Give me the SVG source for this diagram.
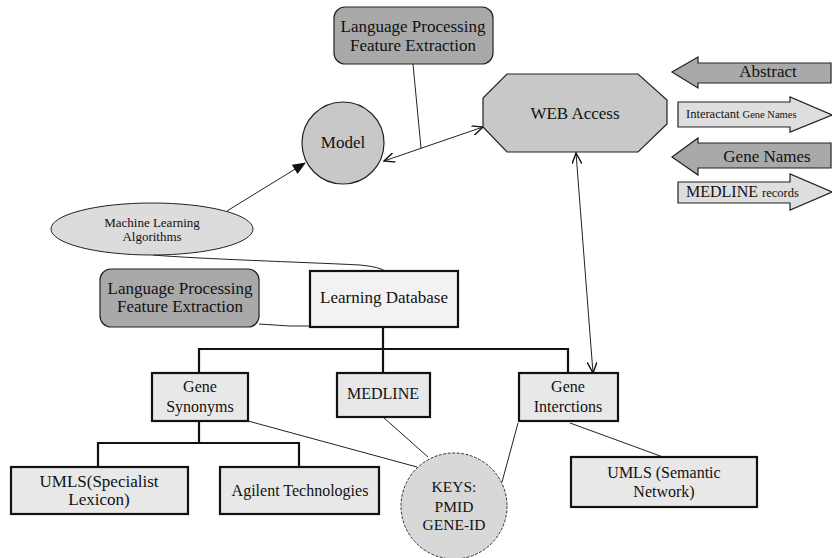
<svg xmlns="http://www.w3.org/2000/svg" width="832" height="558" viewBox="0 0 832 558">
<style>
text{font-family:"Liberation Serif","Times New Roman",serif;fill:#111;text-anchor:middle}
.t16{font-size:16px}.t17{font-size:17px}.t13{font-size:13px}.t15{font-size:15.5px}
.dark{fill:#a9a9a9;stroke:#222;stroke-width:1.2}
.mid{fill:#c8c8c8;stroke:#222;stroke-width:1.2}
.box{fill:#e8e8e8;stroke:#111;stroke-width:2.2}
.lt{fill:#dedede;stroke:#222;stroke-width:1.2}
.ln{fill:none;stroke:#222;stroke-width:1}
.tree{fill:none;stroke:#111;stroke-width:2.2}
</style>
<defs>
<marker id="open" viewBox="0 0 12 10" refX="11" refY="5" markerWidth="12" markerHeight="10" markerUnits="userSpaceOnUse" orient="auto-start-reverse">
<path d="M0,0 L11,5 L0,10" fill="none" stroke="#111" stroke-width="1.4"/>
</marker>
<marker id="fill" viewBox="0 0 12 10" refX="11" refY="5" markerWidth="14" markerHeight="11" markerUnits="userSpaceOnUse" orient="auto">
<path d="M0,0 L12,5 L0,10 Z" fill="#111"/>
</marker>
</defs>
<rect width="832" height="558" fill="#fff"/>
<g id="connectors">
<line class="ln" x1="413" y1="64" x2="421" y2="148"/>
<line class="ln" x1="384" y1="161" x2="483" y2="127" marker-start="url(#open)" marker-end="url(#open)"/>
<line class="ln" x1="227" y1="211" x2="305" y2="163" marker-end="url(#fill)"/>
<path class="ln" d="M153,255 C200,259 300,262 360,265 Q380,267 385,271"/>
<path class="ln" d="M259,324 Q290,327 320,326"/>
<line class="ln" x1="576" y1="153" x2="593" y2="373" marker-start="url(#open)" marker-end="url(#open)"/>
<path class="tree" d="M383,327 V349 M199,373 V349 H568 V373 M383,349 V373"/>
<path class="tree" d="M199,421 V443 M98,467 V443 H299 V467"/>
<line class="ln" x1="248" y1="421" x2="417" y2="467"/>
<line class="ln" x1="383" y1="417" x2="428" y2="457"/>
<line class="ln" x1="518" y1="423" x2="502" y2="482"/>
<line class="ln" x1="570" y1="423" x2="663" y2="457"/>
</g>
<g id="lp-top">
<rect class="dark" x="334" y="7" width="159" height="57" rx="11"/>
<text class="t17" x="413" y="32">Language Processing</text>
<text class="t17" x="413" y="51">Feature Extraction</text>
</g>
<g id="model">
<circle class="mid" cx="343" cy="143" r="41"/>
<text class="t17" x="343" y="148">Model</text>
</g>
<g id="web-access">
<polygon class="mid" points="507,74 638,74 667,100 667,124 638,152 507,152 483,127 483,98"/>
<text class="t17" x="575" y="119">WEB Access</text>
</g>
<g id="abstract">
<polygon class="dark" points="672,72 698,57 698,63 831,63 831,83 698,83 698,88"/>
<text class="t17" x="768" y="77">Abstract</text>
</g>
<g id="interactant">
<polygon class="lt" points="678,102 790,102 790,97 832,115 790,132 790,127 678,127"/>
<text x="686" y="118" style="text-anchor:start;font-size:12.5px">Interactant <tspan style="font-size:10.5px">Gene Names</tspan></text>
</g>
<g id="gene-names">
<polygon class="dark" points="672,157 698,138 698,143 831,143 831,168 698,168 698,175"/>
<text class="t17" x="767" y="162">Gene Names</text>
</g>
<g id="medline-records">
<polygon class="lt" points="678,182 790,182 790,174 832,192 790,210 790,203 678,203"/>
<text x="686" y="197" style="text-anchor:start;font-size:16px">MEDLINE <tspan style="font-size:12.5px">records</tspan></text>
</g>
<g id="ml-algorithms">
<ellipse cx="152" cy="229" rx="101" ry="26" fill="#dcdcdc" stroke="#222" stroke-width="1"/>
<text class="t13" x="152" y="227">Machine Learning</text>
<text class="t13" x="152" y="241">Algorithms</text>
</g>
<g id="lp-bottom">
<rect class="dark" x="100" y="269" width="159" height="58" rx="11"/>
<text class="t17" x="180" y="294">Language Processing</text>
<text class="t17" x="180" y="312">Feature Extraction</text>
</g>
<g id="learning-db">
<rect x="310" y="271" width="148" height="56" fill="#f2f2f2" stroke="#111" stroke-width="2.2"/>
<text class="t17" x="384" y="303">Learning Database</text>
</g>
<g id="gene-synonyms">
<rect class="box" x="152" y="373" width="96" height="48"/>
<text class="t16" x="200" y="392">Gene</text>
<text class="t16" x="200" y="412">Synonyms</text>
</g>
<g id="medline">
<rect class="box" x="337" y="373" width="93" height="44"/>
<text class="t16" x="383" y="399">MEDLINE</text>
</g>
<g id="gene-interctions">
<rect class="box" x="519" y="373" width="99" height="48"/>
<text class="t16" x="568" y="392">Gene</text>
<text class="t16" x="568" y="412">Interctions</text>
</g>
<g id="umls-lexicon">
<rect class="box" x="11" y="467" width="177" height="47"/>
<text class="t17" x="99" y="487">UMLS(Specialist</text>
<text class="t17" x="99" y="505">Lexicon)</text>
</g>
<g id="agilent">
<rect class="box" x="220" y="467" width="159" height="47"/>
<text class="t16" x="300" y="496">Agilent Technologies</text>
</g>
<g id="keys">
<circle cx="454" cy="506" r="53" fill="#d8d8d8" stroke="#333" stroke-width="1" stroke-dasharray="3,1.5"/>
<text class="t15" x="454" y="492">KEYS:</text>
<text class="t15" x="454" y="512">PMID</text>
<text class="t15" x="454" y="530">GENE-ID</text>
</g>
<g id="umls-semantic">
<rect class="box" x="571" y="457" width="186" height="50"/>
<text class="t16" x="664" y="478">UMLS (Semantic</text>
<text class="t16" x="664" y="497">Network)</text>
</g>
</svg>
